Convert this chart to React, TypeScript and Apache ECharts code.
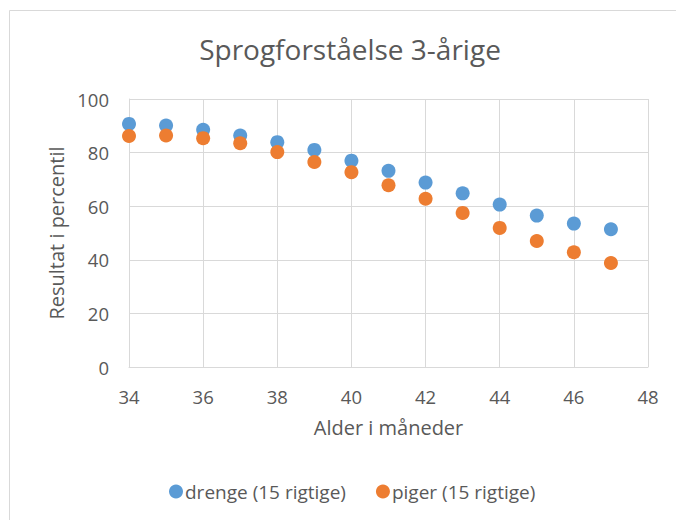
import React, { useEffect, useRef } from "react";
import * as echarts from "echarts";

const months = [34, 35, 36, 37, 38, 39, 40, 41, 42, 43, 44, 45, 46, 47];
const drenge = [90.7, 90.1, 88.5, 86.4, 83.9, 81.0, 77.0, 73.2, 68.8, 64.8, 60.6, 56.5, 53.5, 51.4];
const piger = [86.2, 86.4, 85.4, 83.5, 80.2, 76.5, 72.7, 67.8, 62.8, 57.5, 51.9, 47.0, 42.8, 38.8];
const seriesNames = ["drenge (15 rigtige)", "piger (15 rigtige)"];
const colors = ["#5B9BD5", "#ED7D31"];

const FONT = "Open Sans";
const TXT = "#595959";

export default function App() {
  const ref = useRef<HTMLDivElement>(null);
  useEffect(() => {
    const chart = echarts.init(ref.current!, null, { renderer: "svg" });
    const pairs = (vals: number[]) => months.map((m, i) => [m, vals[i]]);
    chart.setOption({
      animation: false,
      backgroundColor: "#fff",
      textStyle: { fontFamily: FONT },
      title: {
        text: "Sprogforståelse 3-årige",
        left: 345,
        textAlign: "center",
        top: 30,
        textStyle: { fontFamily: FONT, fontSize: 28, fontWeight: "normal", color: TXT },
      },
      graphic: [
        { type: "line", shape: { x1: 9.5, y1: 10.5, x2: 676, y2: 10.5 }, style: { stroke: "#d9d9d9", lineWidth: 1 } },
        { type: "line", shape: { x1: 9.5, y1: 10.5, x2: 9.5, y2: 520 }, style: { stroke: "#d9d9d9", lineWidth: 1 } },
      ],
      legend: {
        bottom: 14,
        left: 164,
        itemWidth: 14,
        itemHeight: 14,
        itemGap: 30,
        icon: "circle",
        textStyle: { fontFamily: FONT, fontSize: 19, color: TXT, padding: [0, 0, 0, -3] },
        data: seriesNames,
      },
      grid: { left: 129, right: 28, top: 99, bottom: 153 },
      xAxis: {
        type: "value",
        min: 34,
        max: 48,
        interval: 2,
        name: "Alder i måneder",
        nameLocation: "middle",
        nameGap: 50,
        nameTextStyle: { fontFamily: FONT, fontSize: 20, color: TXT },
        axisLine: { lineStyle: { color: "#d9d9d9" } },
        axisTick: { show: false },
        axisLabel: { fontFamily: FONT, fontSize: 18.5, color: TXT, margin: 20 },
        splitLine: { show: true, lineStyle: { color: "#d9d9d9", width: 1 } },
      },
      yAxis: {
        type: "value",
        min: 0,
        max: 100,
        interval: 20,
        name: "Resultat i percentil",
        nameLocation: "middle",
        nameGap: 62,
        nameTextStyle: { fontFamily: FONT, fontSize: 20, color: TXT },
        axisLine: { show: true, lineStyle: { color: "#d9d9d9" } },
        axisTick: { show: false },
        axisLabel: { fontFamily: FONT, fontSize: 18.5, color: TXT, margin: 20 },
        splitLine: { show: true, lineStyle: { color: "#d9d9d9", width: 1 } },
      },
      series: [
        { name: seriesNames[0], type: "scatter", data: pairs(drenge), symbolSize: 14, itemStyle: { color: colors[0], opacity: 1 } },
        { name: seriesNames[1], type: "scatter", data: pairs(piger), symbolSize: 14, itemStyle: { color: colors[1], opacity: 1 } },
      ],
    });
    return () => chart.dispose();
  }, []);
  return <div ref={ref} style={{ width: 676, height: 520, position: "absolute", left: 0, top: 0 }} />;
}
